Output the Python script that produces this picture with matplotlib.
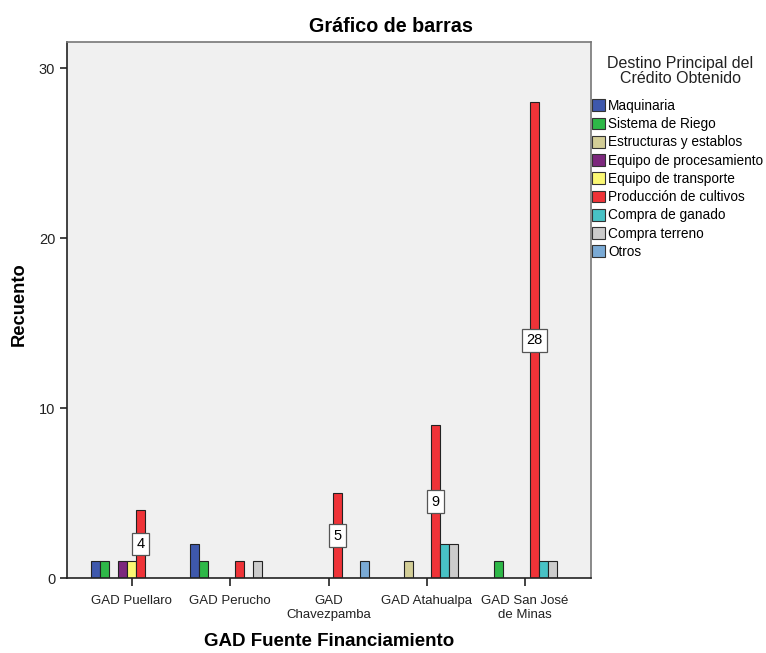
import numpy as np
import matplotlib
matplotlib.use("Agg")
import matplotlib.pyplot as plt
from matplotlib.patches import Patch

plt.rcParams['font.family'] = ['Liberation Sans', 'DejaVu Sans']

# data
groups = ["GAD Puellaro", "GAD Perucho", "GAD\nChavezpamba", "GAD Atahualpa", "GAD San José\nde Minas"]
destinos = ["Maquinaria", "Sistema de Riego", "Estructuras y establos",
            "Equipo de procesamiento", "Equipo de transporte", "Producción de cultivos",
            "Compra de ganado", "Compra terreno", "Otros"]
maquinaria = [1, 2, 0, 0, 0]
riego = [1, 1, 0, 0, 1]
estructuras = [0, 0, 0, 1, 0]
procesamiento = [1, 0, 0, 0, 0]
transporte = [1, 0, 0, 0, 0]
cultivos = [4, 1, 5, 9, 28]
ganado = [0, 0, 0, 2, 1]
terreno = [0, 1, 0, 2, 1]
otros = [0, 0, 1, 0, 0]
colors = ["#3E58AC", "#2EB848", "#D3CE97", "#7C287D", "#FBF873",
          "#EF3338", "#48C2C5", "#CCCCCC", "#7AAAD5"]

series = [maquinaria, riego, estructuras, procesamiento, transporte,
          cultivos, ganado, terreno, otros]

W, H = 766, 653
fig = plt.figure(figsize=(7.66, 6.53), dpi=100)
ax = fig.add_axes([67 / W, 1 - 578 / H, (591 - 67) / W, (578 - 42) / H])
ax.set_facecolor("#F0F0F0")

x = np.arange(len(groups))
w = 0.0915
for i, vals in enumerate(series):
    pos = x + (i - 4) * w
    for p, v in zip(pos, vals):
        if v > 0:
            ax.bar(p, v, width=w, color=colors[i], edgecolor="#222222", linewidth=0.8, zorder=2)

# labels on the crop bars
for p, v in zip(x + w, cultivos):
    if v >= 4:
        ax.text(p, v / 2, str(v), ha="center", va="center", fontsize=10.5, zorder=3,
                bbox=dict(boxstyle="square,pad=0.3", fc="white", ec="#555555", lw=0.9))

ax.set_xlim(-0.66, 4.67)
ax.set_ylim(0, 31.55)
ax.set_yticks([0, 10, 20, 30])
ax.set_xticks(x)
ax.set_xticklabels(groups, fontsize=9.5, linespacing=1.3)
ax.tick_params(axis="y", labelsize=10.5, length=5, width=1.2, colors="#222222")
ax.tick_params(axis="x", length=6, width=1.2, pad=6, colors="#222222")
for s in ["top", "right"]:
    ax.spines[s].set_color("#777777")
    ax.spines[s].set_linewidth(1.2)
for s in ["left", "bottom"]:
    ax.spines[s].set_color("#222222")
    ax.spines[s].set_linewidth(1.2)

fig.text(391 / W, 1 - 26 / H, "Gráfico de barras", ha="center", va="center", fontsize=14.2, fontweight="bold")
fig.text(329 / W, 1 - 642 / H, "GAD Fuente Financiamiento", ha="center", va="center", fontsize=13.5, fontweight="bold")
fig.text(19 / W, 1 - 304 / H, "Recuento", ha="center", va="center", rotation=90, fontsize=13.2, fontweight="bold")

# legend
fig.text(680 / W, 1 - 71 / H, "Destino Principal del\nCrédito Obtenido", ha="center", va="center",
         fontsize=11.5, linespacing=1.05, color="#222222")
handles = [Patch(facecolor=c, edgecolor="#333333", linewidth=0.8) for c in colors]
leg = fig.legend(handles, destinos, loc="upper left", bbox_to_anchor=(592 / W, 1 - 99 / H),
                 frameon=False, fontsize=9.8, handlelength=0.95, handleheight=0.95,
                 handletextpad=0.25, labelspacing=0.31, borderaxespad=0, borderpad=0)

fig.savefig("out.png", dpi=100)
